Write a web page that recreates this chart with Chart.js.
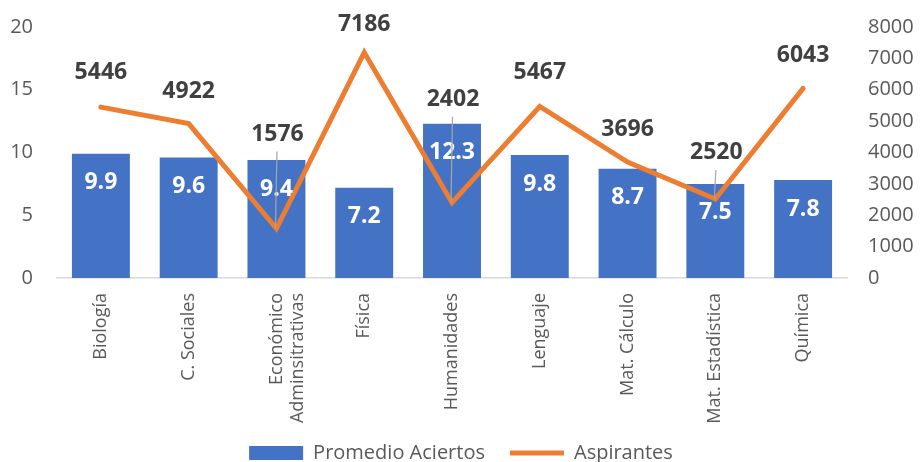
<!DOCTYPE html>
<html>
<head>
<meta charset="utf-8">
<script src="https://cdn.jsdelivr.net/npm/chart.js@4/dist/chart.umd.min.js"></script>
<style>
  html, body { margin: 0; padding: 0; background: #ffffff; }
  #wrap { width: 922px; height: 462px; }
</style>
</head>
<body>
<div id="wrap"><canvas id="c" width="922" height="462"></canvas></div>
<script>
const categories = ['Biología', 'C. Sociales', ['Económico', 'Adminsitrativas'], 'Física', 'Humanidades', 'Lenguaje', 'Mat. Cálculo', 'Mat. Estadística', 'Química'];
const promedioAciertos = [9.9, 9.6, 9.4, 7.2, 12.3, 9.8, 8.7, 7.5, 7.8];
const aspirantes = [5446, 4922, 1576, 7186, 2402, 5467, 3696, 2520, 6043];
const leftTicks = [0, 5, 10, 15, 20];
const rightTicks = [0, 1000, 2000, 3000, 4000, 5000, 6000, 7000, 8000];

const FONT = "'Open Sans', 'DejaVu Sans', sans-serif";

const labelPlugin = {
  id: 'valueLabels',
  afterDatasetsDraw(chart, args, opts) {
    const ctx = chart.ctx;
    ctx.save();
    ctx.textAlign = 'center';
    ctx.textBaseline = 'middle';
    const barMeta = chart.getDatasetMeta(0);
    ctx.font = 'bold 23px ' + FONT;
    ctx.fillStyle = '#ffffff';
    barMeta.data.forEach((bar, i) => {
      ctx.fillText(promedioAciertos[i].toFixed(1), bar.x, bar.y + opts.barInset);
    });
    const lineMeta = chart.getDatasetMeta(1);
    lineMeta.data.forEach((pt, i) => {
      const off = opts.lineOffsets[i];
      const ly = pt.y - off;
      const lead = opts.leaders.includes(i);
      if (lead) {
        ctx.strokeStyle = '#A6A6A6';
        ctx.lineWidth = 1.2;
        ctx.beginPath();
        ctx.moveTo(pt.x + 0.5, ly + 17);
        ctx.lineTo(pt.x - 1, pt.y);
        ctx.stroke();
      }
      ctx.fillStyle = '#404040';
      ctx.font = 'bold 23px ' + FONT;
      ctx.fillText(String(aspirantes[i]), pt.x + (lead ? 1 : 0), ly);
    });
    ctx.restore();
  }
};

const LEGEND_TOP = 418;
const legendPlacer = {
  id: 'legendPlacer',
  afterInit(chart) {
    const lg = chart.legend;
    if (lg) {
      const orig = lg.fit;
      lg.fit = function () {
        orig.call(this);
        this.height = 1;
      };
    }
  },
  afterLayout(chart) {
    const lg = chart.legend;
    if (lg) {
      lg.top = LEGEND_TOP;
      lg.bottom = 462;
      lg.height = 462 - LEGEND_TOP;
    }
  }
};

function fixV(width) {
  return function (scale) {
    scale.width = width;
    scale.paddingTop = 12;
    scale.paddingBottom = 12;
  };
}

new Chart(document.getElementById('c'), {
  data: {
    labels: categories,
    datasets: [
      {
        type: 'bar',
        label: 'Promedio Aciertos',
        data: promedioAciertos,
        backgroundColor: '#4472C4',
        borderWidth: 0,
        yAxisID: 'y',
        barPercentage: 0.66,
        categoryPercentage: 1.0,
        pointStyle: 'rect',
        order: 2
      },
      {
        type: 'line',
        label: 'Aspirantes',
        data: aspirantes,
        borderColor: '#ED7D31',
        backgroundColor: '#ED7D31',
        borderWidth: 5,
        borderJoinStyle: 'miter',
        borderCapStyle: 'round',
        pointRadius: 0,
        pointHoverRadius: 0,
        tension: 0,
        yAxisID: 'y1',
        pointStyle: 'line',
        order: 1
      }
    ]
  },
  options: {
    responsive: false,
    devicePixelRatio: 1,
    animation: false,
    layout: { padding: { top: 27, left: 0, right: 0, bottom: 0 } },
    plugins: {
      tooltip: { enabled: false },
      legend: {
        position: 'bottom',
        labels: {
          font: { family: FONT, size: 20 },
          color: '#595959',
          usePointStyle: true,
          pointStyleWidth: 54,
          boxHeight: 14,
          padding: 25,
          sort: (a, b) => a.datasetIndex - b.datasetIndex
        }
      },
      valueLabels: {
        barInset: 29,
        lineOffsets: [35, 32, 94, 28, 103, 34, 33, 46, 33],
        leaders: [2, 4, 7]
      }
    },
    scales: {
      x: {
        grid: { display: false, drawTicks: false },
        border: { display: true, color: '#D9D9D9', width: 1.5 },
        ticks: {
          autoSkip: false,
          maxRotation: 90,
          minRotation: 90,
          padding: 15,
          color: '#595959',
          font: { family: FONT, size: 18 }
        },
        afterFit(scale) { scale.height = 462 - 278 - 1; }
      },
      y: {
        position: 'left',
        min: 0,
        max: 20,
        grid: { display: false, drawTicks: false },
        border: { display: false },
        afterBuildTicks(scale) { scale.ticks = leftTicks.map(v => ({ value: v })); },
        ticks: {
          padding: 24,
          color: '#595959',
          font: { family: FONT, size: 20 },
          callback: (v) => String(v)
        },
        afterFit: fixV(57)
      },
      y1: {
        position: 'right',
        min: 0,
        max: 8000,
        grid: { display: false, drawTicks: false },
        border: { display: false },
        afterBuildTicks(scale) { scale.ticks = rightTicks.map(v => ({ value: v })); },
        ticks: {
          padding: 21,
          color: '#595959',
          font: { family: FONT, size: 20 },
          callback: (v) => String(v)
        },
        afterFit: fixV(75)
      }
    }
  },
  plugins: [labelPlugin, legendPlacer]
});
</script>
</body>
</html>
